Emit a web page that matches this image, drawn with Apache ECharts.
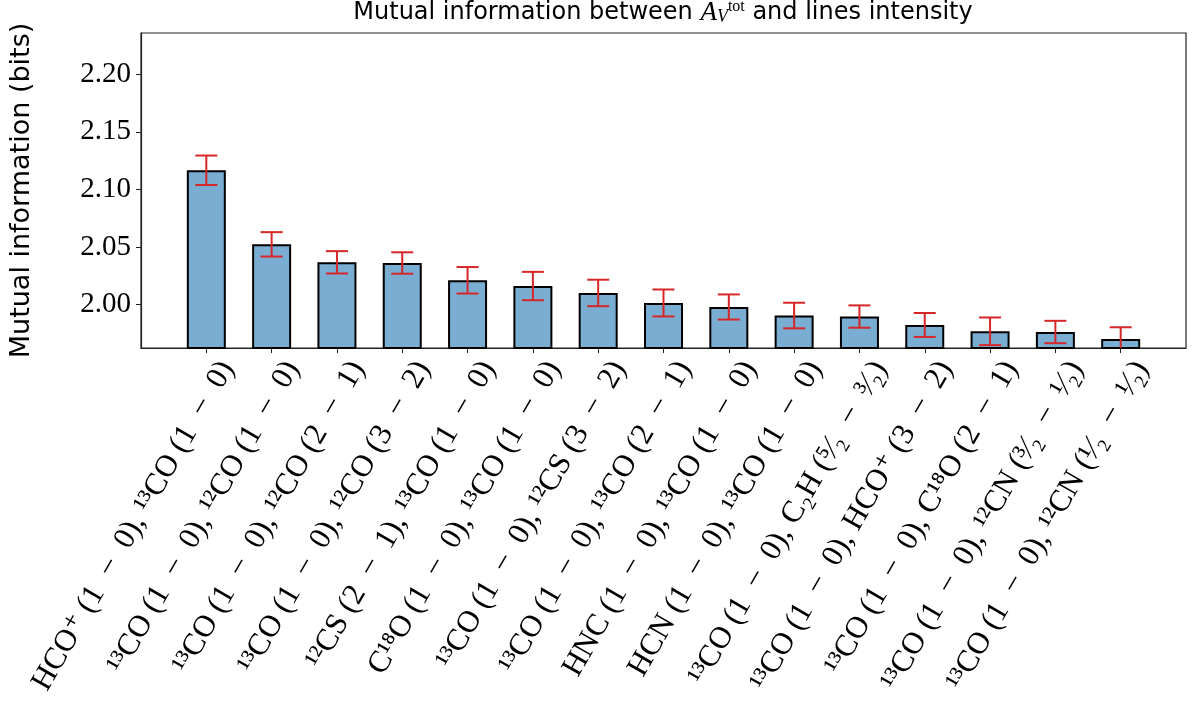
<!DOCTYPE html>
<html>
<head>
<meta charset="utf-8">
<script src="https://cdn.jsdelivr.net/npm/echarts@6/dist/echarts.min.js"></script>
<style>
html,body{margin:0;padding:0;background:#fff;}
#chart{width:1196px;height:709px;}
</style>
</head>
<body>
<div id="chart"></div>
<script>
// ---- data ----
const categories = [
  "HCO⁺ (1 − 0), ¹³CO (1 − 0)",
  "¹³CO (1 − 0), ¹²CO (1 − 0)",
  "¹³CO (1 − 0), ¹²CO (2 − 1)",
  "¹³CO (1 − 0), ¹²CO (3 − 2)",
  "¹²CS (2 − 1), ¹³CO (1 − 0)",
  "C¹⁸O (1 − 0), ¹³CO (1 − 0)",
  "¹³CO (1 − 0), ¹²CS (3 − 2)",
  "¹³CO (1 − 0), ¹³CO (2 − 1)",
  "HNC (1 − 0), ¹³CO (1 − 0)",
  "HCN (1 − 0), ¹³CO (1 − 0)",
  "¹³CO (1 − 0), C₂H (⁵⁄₂ − ³⁄₂)",
  "¹³CO (1 − 0), HCO⁺ (3 − 2)",
  "¹³CO (1 − 0), C¹⁸O (2 − 1)",
  "¹³CO (1 − 0), ¹²CN (³⁄₂ − ¹⁄₂)",
  "¹³CO (1 − 0), ¹²CN (¹⁄₂ − ¹⁄₂)"
];
const values = [2.1166, 2.0523, 2.0367, 2.0361, 2.0211, 2.0161, 2.0101, 2.0014, 1.9979, 1.9905, 1.9896, 1.9823, 1.9768, 1.9762, 1.9701];
const errors = [0.0128, 0.0106, 0.0097, 0.0093, 0.0115, 0.0123, 0.0115, 0.0117, 0.0109, 0.0111, 0.0097, 0.0104, 0.0120, 0.0097, 0.0102];
const yTicks = [2.00, 2.05, 2.10, 2.15, 2.20];
const yMin = 1.9623, yMax = 2.2358;

const chart = echarts.init(document.getElementById('chart'), null, {renderer: 'canvas'});
const idx = categories.map((c, i) => i);
const serif = '"Liberation Serif", "DejaVu Serif", serif';
const sans = '"DejaVu Sans", sans-serif';

const option = {
  animation: false,
  backgroundColor: '#fff',
  title: {
    text: 'Mutual information between {A|A}{V|V}{t|tot} and lines intensity',
    left: 658,
    textAlign: 'center',
    top: -6,
    textStyle: {
      fontFamily: sans, fontSize: 24, fontWeight: 'normal', color: '#000',
      rich: {
        A: {fontFamily: serif, fontStyle: 'italic', fontSize: 27, color: '#000'},
        V: {fontFamily: serif, fontStyle: 'italic', fontSize: 18, color: '#000', verticalAlign: 'bottom', padding: [9, 0, 0, 0]},
        t: {fontFamily: serif, fontSize: 16, color: '#000', verticalAlign: 'top', padding: [0, 0, 10, 0]}
      }
    }
  },
  grid: {
    left: 141, right: 10, top: 33, bottom: 361,
    show: true, borderColor: '#222', borderWidth: 1.2, backgroundColor: 'transparent'
  },
  xAxis: {
    type: 'value', min: -1, max: 15,
    splitLine: {show: false},
    axisLine: {show: true, onZero: false, lineStyle: {color: '#222', width: 1.2}},
    axisTick: {show: true, length: 5, customValues: idx, lineStyle: {color: '#222'}},
    axisLabel: {
      customValues: idx,
      rotate: 60, margin: 52,
      padding: [0, -42, 0, 0],
      fontFamily: serif, fontSize: 31, color: '#000',
      formatter: v => (categories[Math.round(v)] || '').replace(/ − /g, '\u2002−\u2002')
    }
  },
  yAxis: {
    type: 'value', min: yMin, max: yMax,
    name: 'Mutual information (bits)',
    nameLocation: 'middle', nameGap: 106,
    nameTextStyle: {fontFamily: sans, fontSize: 27, color: '#000'},
    splitLine: {show: false},
    axisLine: {show: true, onZero: false, lineStyle: {color: '#222', width: 1.2}},
    axisTick: {show: true, length: 5, customValues: yTicks, lineStyle: {color: '#222'}},
    axisLabel: {
      customValues: yTicks, margin: 10,
      fontFamily: serif, fontSize: 29, color: '#000',
      formatter: v => v.toFixed(2)
    }
  },
  series: [
    {
      type: 'bar',
      data: values.map((v, i) => [i, v]),
      barWidth: 39,
      itemStyle: {color: '#79add2', borderColor: '#000', borderWidth: 2}
    },
    {
      type: 'custom',
      clip: true,
      z: 5,
      data: values.map((v, i) => [i, v, errors[i]]),
      renderItem: function (params, api) {
        const x = api.value(0), v = api.value(1), e = api.value(2);
        const top = api.coord([x, v + e]);
        const bot = api.coord([x, v - e]);
        const hw = 11;
        const style = {stroke: '#d62728', lineWidth: 2};
        return {
          type: 'group',
          children: [
            {type: 'line', shape: {x1: top[0], y1: top[1], x2: bot[0], y2: bot[1]}, style: style},
            {type: 'line', shape: {x1: top[0] - hw, y1: top[1], x2: top[0] + hw, y2: top[1]}, style: style},
            {type: 'line', shape: {x1: bot[0] - hw, y1: bot[1], x2: bot[0] + hw, y2: bot[1]}, style: style}
          ]
        };
      }
    }
  ]
};
chart.setOption(option);
</script>
</body>
</html>
